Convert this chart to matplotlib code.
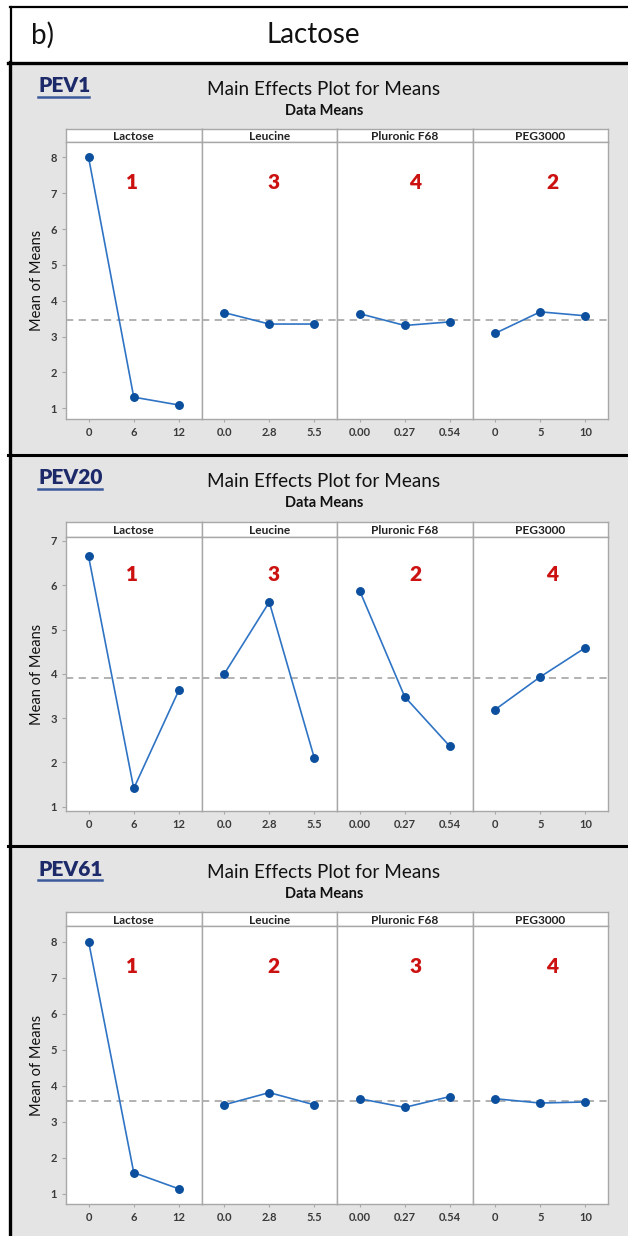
import matplotlib
matplotlib.use("Agg")
import matplotlib.pyplot as plt
import numpy as np
from matplotlib.patches import Rectangle
from matplotlib.lines import Line2D

plt.rcParams['font.family'] = ['Lato', 'DejaVu Sans']

# ---------------- data ----------------
header_label = "b)"
header_title = "Lactose"
factors = ["Lactose", "Leucine", "Pluronic F68", "PEG3000"]
levels = [["0", "6", "12"], ["0.0", "2.8", "5.5"], ["0.00", "0.27", "0.54"], ["0", "5", "10"]]
responses = ["PEV1", "PEV20", "PEV61"]
pev1_means = [[8.00, 1.31, 1.09], [3.67, 3.35, 3.35], [3.64, 3.31, 3.41], [3.09, 3.69, 3.58]]
pev20_means = [[6.65, 1.41, 3.63], [3.99, 5.62, 2.09], [5.88, 3.48, 2.36], [3.19, 3.93, 4.59]]
pev61_means = [[8.00, 1.59, 1.14], [3.47, 3.81, 3.47], [3.64, 3.40, 3.70], [3.64, 3.52, 3.55]]
ranks = [[1, 3, 4, 2], [1, 3, 2, 4], [1, 2, 3, 4]]
yticks_max = [8, 7, 8]
all_means = [pev1_means, pev20_means, pev61_means]

# ---------------- layout (pixels) ----------------
W, H = 628, 1236
DPI = 100
fig = plt.figure(figsize=(W / DPI, H / DPI), dpi=DPI, facecolor="white")


def fx(x):
    return x / W


def fy(y):
    return 1 - y / H


GRAY_BG = "#e4e4e4"
FRAME = "#a8a8a8"
LINE_C = "#2f74c4"
MARK_C = "#0b4f9e"
RED = "#cc1111"
NAVY = "#1d2a6a"

panel_tops = [63, 455, 846]
strip_tops = [129, 522, 912]
plot_tops = [142, 537, 926]
plot_bottoms = [419, 811, 1204]
ylims = [(0.70, 8.43), (0.90, 7.09), (0.72, 8.43)]
rank_y = [0.855, 0.864, 0.856]
rank_x = [0.49, 0.53, 0.58, 0.59]
underline_w = [51, 64, 64]

ax_left = 66
ax_right = 608
ax_w = (ax_right - ax_left) / 4

# background gray panels
fig.patches.append(Rectangle((fx(10), 0), 1 - fx(10), fy(63), transform=fig.transFigure,
                             facecolor=GRAY_BG, edgecolor="none", zorder=-5))

# header box lines
fig.add_artist(Line2D([fx(10), 1], [fy(7), fy(7)], color="black", lw=1.6))
fig.add_artist(Line2D([fx(11), fx(11)], [fy(7), fy(63)], color="black", lw=1.6))
fig.add_artist(Line2D([fx(8), 1], [fy(62.5), fy(62.5)], color="black", lw=2.4))
fig.add_artist(Line2D([fx(9.5), fx(9.5)], [fy(62), 0], color="black", lw=2.4))
for sep in [454.5, 845.5]:
    fig.add_artist(Line2D([fx(8), 1], [fy(sep), fy(sep)], color="black", lw=2.2))

fig.text(fx(31), fy(35), header_label, fontsize=20, ha="left", va="center", color="#111111")
fig.text(fx(313), fy(35), header_title, fontsize=20, ha="center", va="center", color="#111111")

for p in range(3):
    top = panel_tops[p]
    means = all_means[p]
    grand = np.mean(means)

    # response label with underline
    fig.text(fx(38), fy(top + 23), responses[p], fontsize=15, fontweight="heavy",
             color=NAVY, ha="left", va="center")
    fig.add_artist(Line2D([fx(38), fx(38 + underline_w[p])], [fy(top + 34), fy(top + 34)],
                          color="#3b5a9c", lw=1.8))

    fig.text(fx(324), fy(top + 26.5), "Main Effects Plot for Means", fontsize=13.6,
             ha="center", va="center", color="#111111")
    fig.text(fx(324), fy(top + 48), "Data Means", fontsize=10.5, fontweight="bold",
             ha="center", va="center", color="#111111")

    st, pt, pb = strip_tops[p], plot_tops[p], plot_bottoms[p]
    for i, fac in enumerate(factors):
        left = ax_left + i * ax_w
        # strip
        sax = fig.add_axes([fx(left), fy(pt), ax_w / W, (pt - st) / H])
        sax.set_facecolor("white")
        sax.set_xticks([])
        sax.set_yticks([])
        for s in sax.spines.values():
            s.set_color(FRAME)
            s.set_linewidth(1.0)
        sax.text(0.5, 0.42, fac, transform=sax.transAxes, ha="center", va="center",
                 fontsize=8.6, fontweight="bold", color="#222222")

        ax = fig.add_axes([fx(left), fy(pb), ax_w / W, (pb - pt) / H])
        ax.set_facecolor("white")
        xs = np.arange(len(levels[i]))
        ax.axhline(grand, color="#ababab", lw=1.3, ls=(0, (4, 3)), zorder=1)
        ax.plot(xs, means[i], color=LINE_C, lw=1.2, zorder=2)
        ax.plot(xs, means[i], ls="none", marker="o", ms=5.4, color=MARK_C, zorder=3)
        ax.set_xlim(-0.5, 2.5)
        ax.set_ylim(*ylims[p])
        ax.set_xticks(xs)
        ax.set_xticklabels(levels[i], fontsize=8, fontweight="bold", color="#3a3a3a")
        ax.tick_params(axis="x", length=2.5, width=0.8, color=FRAME, pad=3.5)
        if i == 0:
            ax.set_yticks(np.arange(1, yticks_max[p] + 1))
            ax.set_yticklabels([str(v) for v in range(1, yticks_max[p] + 1)],
                               fontsize=8, fontweight="bold", color="#3a3a3a")
            ax.tick_params(axis="y", length=3, width=0.8, color=FRAME, pad=3.5)
            ax.set_ylabel("Mean of Means", fontsize=10.5, color="#111111", labelpad=5)
        else:
            ax.set_yticks([])
        for s in ax.spines.values():
            s.set_color(FRAME)
            s.set_linewidth(1.0)
        ax.text(rank_x[i], rank_y[p], str(ranks[p][i]), transform=ax.transAxes,
                ha="center", va="center", fontsize=15, fontweight="heavy", color=RED)

fig.savefig("out.png", dpi=DPI, facecolor="white")
